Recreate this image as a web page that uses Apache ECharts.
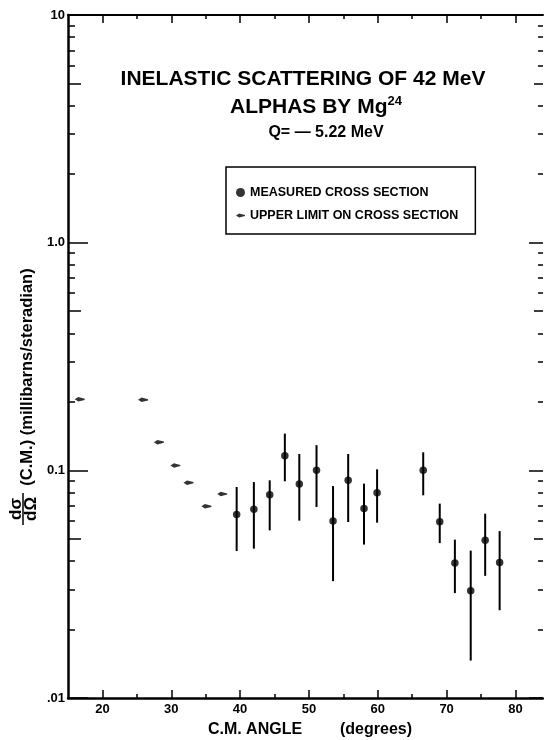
<!DOCTYPE html>
<html>
<head>
<meta charset="utf-8">
<script src="https://cdn.jsdelivr.net/npm/echarts@6/dist/echarts.min.js"></script>
<style>
  html, body { margin: 0; padding: 0; background: #fff; }
  #chart { width: 544px; height: 740px; }
</style>
</head>
<body>
<div id="chart"></div>
<script>
// upper limits (small dashes)
const limitAngles = [16.7, 25.9, 28.2, 30.6, 32.5, 35.1, 37.4];
const limitValues = [0.205, 0.204, 0.133, 0.105, 0.0883, 0.0695, 0.0787];

// measured cross section with error bars
const measAngles = [39.5, 42.0, 44.3, 46.5, 48.6, 51.1, 53.5, 55.7, 58.0, 59.9, 66.6, 69.0, 71.2, 73.5, 75.6, 77.7];
const measValues = [0.0639, 0.0674, 0.0782, 0.116, 0.0871, 0.100, 0.0599, 0.0904, 0.0679, 0.0798, 0.100, 0.0595, 0.0392, 0.0296, 0.0493, 0.0394];
const measHigh = [0.0845, 0.0888, 0.0904, 0.145, 0.118, 0.129, 0.0853, 0.118, 0.0874, 0.101, 0.120, 0.0714, 0.0496, 0.0444, 0.0645, 0.0541];
const measLow = [0.0442, 0.0453, 0.0545, 0.0895, 0.0601, 0.0690, 0.0326, 0.0593, 0.0472, 0.0589, 0.0777, 0.0479, 0.0289, 0.0146, 0.0344, 0.0243];

// ticks
const xMajorTicks = [20, 30, 40, 50, 60, 70, 80];
const xMinorTicks = [25, 35, 45, 55, 65, 75];
const yMajorTicks = [0.01, 0.1, 1, 10];
const yMidTicks = [0.05, 0.5, 5];
const yMinorTicks = [0.02, 0.03, 0.04, 0.06, 0.07, 0.08, 0.09,
  0.2, 0.3, 0.4, 0.6, 0.7, 0.8, 0.9,
  2, 3, 4, 6, 7, 8, 9];
const yTickLabels = { '-2': '.01', '-1': '0.1', '0': '1.0', '1': '10' };

const FONT = 'Liberation Sans';
const limitSymbol = 'path://M0,3 L5,0 L14,2.2 L14,3.8 L5,6 Z';

function xAxis(position, ticks, len, withLabels, lineWidth) {
  return {
    type: 'value', position, min: 15, max: 84,
    axisLine: { show: lineWidth > 0, lineStyle: { color: '#000', width: lineWidth } },
    axisTick: { show: true, inside: true, length: len, customValues: ticks, lineStyle: { color: '#000', width: 1.5 } },
    axisLabel: withLabels
      ? { show: true, customValues: ticks, margin: 5, color: '#000', fontFamily: FONT, fontWeight: 'bold', fontSize: 13 }
      : { show: false },
    splitLine: { show: false },
  };
}

function yAxis(position, ticks, len, withLabels, lineWidth) {
  return {
    type: 'log', logBase: 10, position, min: 0.01, max: 10,
    axisLine: { show: lineWidth > 0, lineStyle: { color: '#000', width: lineWidth } },
    axisTick: { show: true, inside: true, length: len, customValues: ticks, lineStyle: { color: '#000', width: 1.5 } },
    axisLabel: withLabels
      ? {
          show: true, customValues: ticks, margin: 3, color: '#000',
          fontFamily: FONT, fontWeight: 'bold', fontSize: 13,
          formatter: v => yTickLabels[String(Math.round(Math.log10(v)))] || '',
        }
      : { show: false },
    splitLine: { show: false },
    minorSplitLine: { show: false },
  };
}

const chart = echarts.init(document.getElementById('chart'));

chart.setOption({
  animation: false,
  backgroundColor: '#fff',
  grid: { left: 68, top: 15, width: 475, height: 683 },
  xAxis: [
    xAxis('bottom', xMajorTicks, 8, true, 2.5),
    xAxis('bottom', xMinorTicks, 4, false, 0),
    xAxis('top', xMajorTicks, 8, false, 2),
    xAxis('top', xMinorTicks, 4, false, 0),
  ],
  yAxis: [
    yAxis('left', yMajorTicks, 20, true, 2.5),
    yAxis('left', yMidTicks, 13, false, 0),
    yAxis('left', yMinorTicks, 7, false, 0),
    yAxis('right', yMajorTicks, 14, false, 0),
    yAxis('right', yMidTicks, 9, false, 0),
    yAxis('right', yMinorTicks, 5, false, 0),
  ],
  legend: {
    orient: 'vertical',
    left: 226, top: 167,
    padding: [19, 17, 12, 10],
    itemGap: 10,
    itemWidth: 9, itemHeight: 9,
    borderColor: '#000', borderWidth: 1.5,
    selectedMode: false,
    textStyle: { color: '#000', fontFamily: FONT, fontWeight: 'bold', fontSize: 12.5 },
    data: [
      { name: 'MEASURED CROSS SECTION', icon: 'circle' },
      { name: 'UPPER LIMIT ON CROSS SECTION', icon: limitSymbol },
    ],
  },
  graphic: [
    {
      type: 'text', x: 303, y: 79,
      style: { text: 'INELASTIC SCATTERING OF 42 MeV', textAlign: 'center', textVerticalAlign: 'middle',
        font: 'bold 21px "Liberation Sans"', fill: '#000' },
    },
    {
      type: 'text', x: 316, y: 107,
      style: {
        text: '{a|ALPHAS BY Mg}{s|24}', textAlign: 'center', textVerticalAlign: 'middle',
        rich: {
          a: { fontFamily: FONT, fontWeight: 'bold', fontSize: 21, fill: '#000' },
          s: { fontFamily: FONT, fontWeight: 'bold', fontSize: 13, fill: '#000', verticalAlign: 'top', padding: [0, 0, 12, 0] },
        },
      },
    },
    {
      type: 'text', x: 326, y: 133,
      style: { text: 'Q= \u2014 5.22 MeV', textAlign: 'center', textVerticalAlign: 'middle',
        font: 'bold 16px "Liberation Sans"', fill: '#000' },
    },
    {
      type: 'text', x: 255, y: 730,
      style: { text: 'C.M. ANGLE', textAlign: 'center', textVerticalAlign: 'middle',
        font: 'bold 16px "Liberation Sans"', fill: '#000' },
    },
    {
      type: 'text', x: 376, y: 730,
      style: { text: '(degrees)', textAlign: 'center', textVerticalAlign: 'middle',
        font: 'bold 16px "Liberation Sans"', fill: '#000' },
    },
    // y axis title, written bottom to top
    {
      type: 'text', x: 27, y: 377, rotation: Math.PI / 2,
      style: { text: '(C.M.) (millibarns/steradian)', textAlign: 'center', textVerticalAlign: 'middle',
        font: 'bold 16.5px "Liberation Sans"', fill: '#000' },
    },
    {
      type: 'text', x: 16, y: 509, rotation: Math.PI / 2,
      style: { text: 'd\u03c3', textAlign: 'center', textVerticalAlign: 'middle',
        font: 'bold 17px "Liberation Sans"', fill: '#000' },
    },
    {
      type: 'line', shape: { x1: 23, y1: 493, x2: 23, y2: 525 },
      style: { stroke: '#000', lineWidth: 1.5 },
    },
    {
      type: 'text', x: 31, y: 509, rotation: Math.PI / 2,
      style: { text: 'd\u03a9', textAlign: 'center', textVerticalAlign: 'middle',
        font: 'bold 17px "Liberation Sans"', fill: '#000' },
    },
  ],
  series: [
    {
      name: 'error bars',
      type: 'custom',
      xAxisIndex: 0, yAxisIndex: 0,
      data: measAngles.map((a, i) => [a, measLow[i], measHigh[i]]),
      encode: { x: 0, y: [1, 2] },
      renderItem: (params, api) => {
        const lo = api.coord([api.value(0), api.value(1)]);
        const hi = api.coord([api.value(0), api.value(2)]);
        return {
          type: 'line',
          shape: { x1: lo[0], y1: lo[1], x2: hi[0], y2: hi[1] },
          style: { stroke: '#000', lineWidth: 2 },
        };
      },
      z: 2,
    },
    {
      name: 'MEASURED CROSS SECTION',
      type: 'scatter',
      xAxisIndex: 0, yAxisIndex: 0,
      symbol: 'circle', symbolSize: 7.5,
      itemStyle: { color: '#000' },
      data: measAngles.map((a, i) => [a, measValues[i]]),
      z: 3,
    },
    {
      name: 'UPPER LIMIT ON CROSS SECTION',
      type: 'scatter',
      xAxisIndex: 0, yAxisIndex: 0,
      symbol: limitSymbol, symbolSize: [10, 4.5],
      itemStyle: { color: '#000' },
      data: limitAngles.map((a, i) => [a, limitValues[i]]),
      z: 3,
    },
  ],
});
</script>
</body>
</html>
